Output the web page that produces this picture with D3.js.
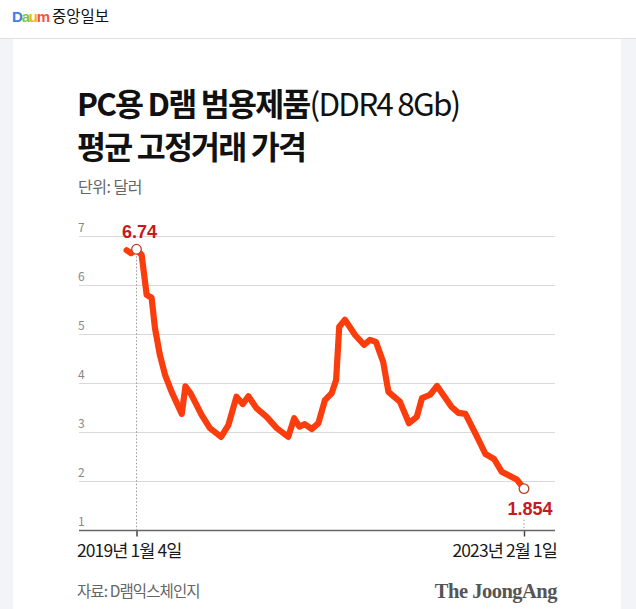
<!DOCTYPE html>
<html>
<head>
<meta charset="utf-8">
<script src="https://cdn.jsdelivr.net/npm/d3@7"></script>
<style>
  body { margin: 0; background: #fff; }
  svg { display: block; font-family: "Noto Sans CJK KR", "Noto Sans", sans-serif; }
</style>
</head>
<body>
<div id="chart"></div>
<script>
// 반기별 고정거래가 (달러) - 그림에서 읽은 값
const dates = [
  "2018-11-27", "2018-12-14", "2019-01-04", "2019-01-24", "2019-02-12", "2019-03-03",
  "2019-03-16", "2019-04-04", "2019-04-24", "2019-05-19", "2019-06-27", "2019-07-11",
  "2019-08-01", "2019-09-11", "2019-10-13", "2019-11-25", "2019-12-23", "2020-01-23",
  "2020-02-16", "2020-03-09", "2020-04-10", "2020-05-18", "2020-06-26", "2020-08-09",
  "2020-09-01", "2020-09-21", "2020-10-12", "2020-11-07", "2020-12-03", "2020-12-28",
  "2021-01-23", "2021-02-09", "2021-02-21", "2021-03-15", "2021-04-23", "2021-05-27",
  "2021-06-19", "2021-07-12", "2021-08-09", "2021-08-29", "2021-10-12", "2021-11-16",
  "2021-12-16", "2022-01-05", "2022-02-05", "2022-03-04", "2022-04-29", "2022-05-25",
  "2022-06-21", "2022-08-01", "2022-09-06", "2022-10-09", "2022-11-07", "2023-01-04",
  "2023-02-01"
];
const prices = [
  6.72, 6.66, 6.74, 6.62, 5.81, 5.75,
  5.13, 4.58, 4.17, 3.83, 3.38, 3.94,
  3.79, 3.36, 3.09, 2.91, 3.15, 3.73,
  3.58, 3.74, 3.49, 3.32, 3.09, 2.91,
  3.29, 3.12, 3.17, 3.07, 3.19, 3.66,
  3.80, 4.07, 5.16, 5.30, 4.99, 4.79,
  4.89, 4.85, 4.44, 3.83, 3.63, 3.19,
  3.32, 3.70, 3.77, 3.95, 3.52, 3.40,
  3.38, 2.95, 2.56, 2.46, 2.20, 2.04,
  1.854
];
const yTicks = [1, 2, 3, 4, 5, 6, 7];
const xTickDates = ["2019-01-04", "2023-02-01"];
const xTickLabels = ["2019년 1월 4일", "2023년 2월 1일"];
const markedDates = ["2019-01-04", "2023-02-01"];
const markedLabels = ["6.74", "1.854"];

const parse = d3.timeParse("%Y-%m-%d");
const data = dates.map((d, i) => ({ date: parse(d), value: prices[i] }));

const W = 636, H = 609;
const svg = d3.select("#chart").append("svg")
  .attr("width", W)
  .attr("height", H);

// page chrome
svg.append("rect").attr("width", W).attr("height", H).attr("fill", "#f3f4f7");
svg.append("rect").attr("width", W).attr("height", 38).attr("fill", "#fff");
svg.append("line").attr("x1", 0).attr("x2", W).attr("y1", 38.5).attr("y2", 38.5)
  .attr("stroke", "#e0e0e0");
svg.append("rect").attr("x", 13).attr("y", 39).attr("width", 608).attr("height", H - 39)
  .attr("fill", "#fff");

const logo = svg.append("text")
  .attr("x", 12).attr("y", 22)
  .style("font-family", "Arial, 'Liberation Sans', sans-serif")
  .style("font-weight", "bold")
  .style("font-size", "15px")
  .style("letter-spacing", "-1.2px");
[["D", "#3f7cf0"], ["a", "#7bc74a"], ["u", "#f5b31b"], ["m", "#f0524a"]].forEach(([c, col]) => {
  logo.append("tspan").attr("fill", col).text(c);
});
svg.append("text")
  .attr("x", 52).attr("y", 22)
  .attr("fill", "#111")
  .style("font-size", "15.5px")
  .text("중앙일보");

// title
const title = svg.append("text")
  .attr("x", 77).attr("y", 116)
  .attr("fill", "#111")
  .style("font-size", "31.5px")
  .style("letter-spacing", "-1.8px");
title.append("tspan").style("font-weight", "bold").text("PC용 D램 범용제품");
title.append("tspan").style("font-weight", "normal").text("(DDR4 8Gb)");

svg.append("text")
  .attr("x", 77).attr("y", 159)
  .attr("fill", "#111")
  .style("font-size", "31.5px")
  .style("font-weight", "bold")
  .style("letter-spacing", "-1.8px")
  .text("평균 고정거래 가격");

svg.append("text")
  .attr("x", 78).attr("y", 193)
  .attr("fill", "#666")
  .style("font-size", "16px")
  .style("letter-spacing", "-0.5px")
  .text("단위: 달러");

// scales
const x = d3.scaleTime()
  .domain([parse(xTickDates[0]), parse(xTickDates[1])])
  .range([136.5, 524]);

const y = d3.scaleLinear()
  .domain([1, 7])
  .range([530.5, 236.5]);

const gridLeft = 79, gridRight = 555;

// grid lines
svg.append("g")
  .selectAll("line")
  .data(yTicks.filter(t => t > 1))
  .join("line")
  .attr("x1", gridLeft).attr("x2", gridRight)
  .attr("y1", d => y(d)).attr("y2", d => y(d))
  .attr("stroke", "#d9d9d9")
  .attr("stroke-width", 1.2);

svg.append("g")
  .selectAll("text")
  .data(yTicks)
  .join("text")
  .attr("x", 78)
  .attr("y", d => y(d) - 5)
  .attr("fill", "#888")
  .style("font-size", "12px")
  .text(d => d);

// dotted guides for marked points
markedDates.forEach((d, i) => {
  const dt = parse(d);
  const v = prices[dates.indexOf(d)];
  const top = i === 0 ? y(v) : y(v) + 31;
  svg.append("line")
    .attr("x1", x(dt)).attr("x2", x(dt))
    .attr("y1", top).attr("y2", y(1))
    .attr("stroke", "#999")
    .attr("stroke-width", 1)
    .attr("stroke-dasharray", "1.5,2");
});

// x axis
const xAxis = svg.append("g")
  .attr("transform", `translate(0,${y(1)})`)
  .call(d3.axisBottom(x)
    .tickValues(xTickDates.map(parse))
    .tickSize(6)
    .tickSizeOuter(0)
    .tickFormat(""));
xAxis.select(".domain").remove();
xAxis.selectAll(".tick line").attr("stroke", "#444").attr("stroke-width", 1.5);
xAxis.append("line")
  .attr("x1", gridLeft).attr("x2", gridRight)
  .attr("stroke", "#666").attr("stroke-width", 1.5);

svg.append("text")
  .attr("x", 77).attr("y", 557)
  .attr("fill", "#1a1a1a")
  .style("font-size", "17.5px")
  .style("letter-spacing", "-0.9px")
  .text(xTickLabels[0]);
svg.append("text")
  .attr("x", 557).attr("y", 557)
  .attr("text-anchor", "end")
  .attr("fill", "#1a1a1a")
  .style("font-size", "17.5px")
  .style("letter-spacing", "-0.9px")
  .text(xTickLabels[1]);

// price line
const line = d3.line()
  .x(d => x(d.date))
  .y(d => y(d.value));

svg.append("path")
  .datum(data)
  .attr("fill", "none")
  .attr("stroke", "#fb3c0c")
  .attr("stroke-width", 6.2)
  .attr("stroke-linejoin", "round")
  .attr("stroke-linecap", "round")
  .attr("d", line);

// endpoint markers + labels
markedDates.forEach((d, i) => {
  const dt = parse(d);
  const v = prices[dates.indexOf(d)];
  svg.append("circle")
    .attr("cx", x(dt)).attr("cy", y(v))
    .attr("r", 4.8)
    .attr("fill", "#fff")
    .attr("stroke", "#b8432a")
    .attr("stroke-width", 1.3);
  svg.append("text")
    .attr("x", x(dt) + (i === 0 ? 3 : 6))
    .attr("y", i === 0 ? y(v) - 11 : y(v) + 26)
    .attr("text-anchor", "middle")
    .attr("fill", "#c8191e")
    .style("font-family", "Arial, 'Liberation Sans', sans-serif")
    .style("font-weight", "bold")
    .style("font-size", "18px")
    .text(markedLabels[i]);
});

// footer
svg.append("text")
  .attr("x", 77).attr("y", 597)
  .attr("fill", "#666")
  .style("font-size", "15.5px")
  .style("letter-spacing", "-0.9px")
  .text("자료: D램익스체인지");
svg.append("text")
  .attr("x", 557).attr("y", 598)
  .attr("text-anchor", "end")
  .attr("fill", "#555")
  .style("font-family", "'Liberation Serif', 'DejaVu Serif', serif")
  .style("font-weight", "bold")
  .style("font-size", "20.5px")
  .style("letter-spacing", "-0.5px")
  .text("The JoongAng");
</script>
</body>
</html>
